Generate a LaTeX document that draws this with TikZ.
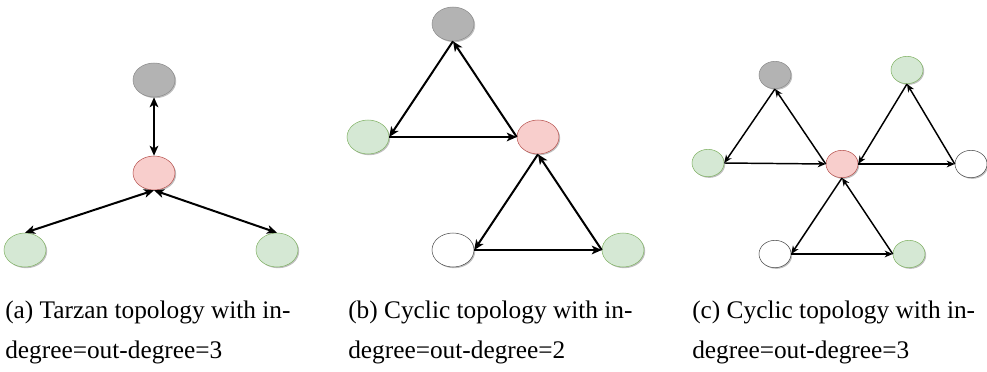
\documentclass[tikz,border=0pt]{standalone}
\usepackage{fontspec}
\setmainfont{Liberation Serif}
\usetikzlibrary{shapes.geometric, arrows.meta, shadows}

\definecolor{cinzafill}{HTML}{B3B3B3}
\definecolor{cinzadraw}{HTML}{8C8C8C}
\definecolor{rosafill}{HTML}{F8CECC}
\definecolor{rosadraw}{HTML}{B85450}
\definecolor{verdefill}{HTML}{D5E8D4}
\definecolor{verdedraw}{HTML}{82B366}
\definecolor{brancodraw}{HTML}{4D4D4D}

\tikzset{
  vert/.style={ellipse, draw, minimum width=31.5pt, minimum height=25.5pt, inner sep=0pt,
    drop shadow={shadow xshift=0.9pt, shadow yshift=-0.9pt, opacity=0.25, fill=black}},
  vertp/.style={vert, minimum width=24pt, minimum height=20.5pt},
  cinza/.style={fill=cinzafill, draw=cinzadraw},
  rosa/.style={fill=rosafill, draw=rosadraw},
  verde/.style={fill=verdefill, draw=verdedraw},
  branco/.style={fill=white, draw=brancodraw},
  aresta/.style={-{Stealth[length=7.5pt, width=6.5pt, inset=2pt]}, line width=1.5pt},
  arestadupla/.style={{Stealth[length=7.5pt, width=6.5pt, inset=2pt]}-{Stealth[length=7.5pt, width=6.5pt, inset=2pt]}, line width=1.5pt},
  arestap/.style={-{Stealth[length=6pt, width=5pt, inset=1.8pt]}, line width=1.1pt},
  legenda/.style={anchor=base west, inner sep=0pt, font=\fontsize{19}{22}\selectfont}
}

\begin{document}
\begin{tikzpicture}[x=0.75pt, y=-0.75pt]
        \useasboundingbox (0,0) rectangle (987,371);
        % (a) Tarzan
        \node[vert, cinza] (aTopo) at (154,80) {};
        \node[vert, rosa] (aCentro) at (154,173) {};
        \node[vert, verde] (aEsq) at (25,250) {};
        \node[vert, verde] (aDir) at (277,250) {};
        \draw[arestadupla] (aTopo.south) -- (aCentro.north);
        \draw[arestadupla] (aCentro.south) -- (aEsq.north);
        \draw[arestadupla] (aCentro.south) -- (aDir.north);
        % (b) ciclos de grau 2
        \node[vert, cinza] (bTopo) at (453,24) {};
        \node[vert, verde] (bEsq) at (368,137) {};
        \node[vert, rosa] (bCentro) at (538,137) {};
        \node[vert, branco] (bBaixo) at (453,250) {};
        \node[vert, verde] (bDir) at (623,250) {};
        \draw[aresta] (bTopo.south) -- (bEsq.east);
        \draw[aresta] (bEsq.east) -- (bCentro.west);
        \draw[aresta] (bCentro.west) -- (bTopo.south);
        \draw[aresta] (bCentro.south) -- (bBaixo.east);
        \draw[aresta] (bBaixo.east) -- (bDir.west);
        \draw[aresta] (bDir.west) -- (bCentro.south);
        % (c) ciclos de grau 3
        \node[vertp, cinza] (cTopo) at (775,75) {};
        \node[vertp, verde] (cTopoDir) at (907,70) {};
        \node[vertp, verde] (cEsq) at (708,163) {};
        \node[vertp, rosa] (cCentro) at (842,164) {};
        \node[vertp, branco] (cDir) at (971,164) {};
        \node[vertp, branco] (cBaixo) at (775,254) {};
        \node[vertp, verde] (cBaixoDir) at (909,254) {};
        \draw[arestap] (cTopo.south) -- (cEsq.east);
        \draw[arestap] (cEsq.east) -- (cCentro.west);
        \draw[arestap] (cCentro.west) -- (cTopo.south);
        \draw[arestap] (cTopoDir.south) -- (cCentro.east);
        \draw[arestap] (cCentro.east) -- (cDir.west);
        \draw[arestap] (cDir.west) -- (cTopoDir.south);
        \draw[arestap] (cCentro.south) -- (cBaixo.east);
        \draw[arestap] (cBaixo.east) -- (cBaixoDir.west);
        \draw[arestap] (cBaixoDir.west) -- (cCentro.south);
        % legendas
        \node[legenda] (legA1) at (5,318) {(a) Tarzan topology with in-};
        \node[legenda] (legA2) at (5,358) {degree=out-degree=3};
        \node[legenda] (legB1) at (348,318) {(b) Cyclic topology with in-};
        \node[legenda] (legB2) at (348,358) {degree=out-degree=2};
        \node[legenda] (legC1) at (692,318) {(c) Cyclic topology with in-};
        \node[legenda] (legC2) at (692,358) {degree=out-degree=3};
    \end{tikzpicture}
\end{document}
